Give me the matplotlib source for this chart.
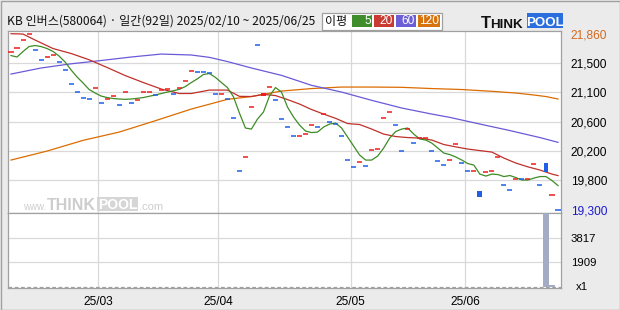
import math
import numpy as np
import pandas as pd
import matplotlib
matplotlib.use('Agg')
import matplotlib.pyplot as plt
from matplotlib.patches import Rectangle

plt.rcParams['font.family'] = ['Noto Sans CJK KR', 'DejaVu Sans']

# ---------------- data ----------------
title = 'KB 인버스(580064) · 일간(92일) 2025/02/10 ~ 2025/06/25'
holidays = ['2025-03-03', '2025-05-01', '2025-05-05', '2025-05-06', '2025-06-03', '2025-06-06']
dates = pd.bdate_range('2025-02-10', '2025-06-25').difference(pd.to_datetime(holidays))

closes = [21590, 21645, 21765, 21860, 21620, 21475, 21515, 21545, 21445, 21325,
          21125, 21005, 20920, 20905, 21065, 20845, 20905, 20950, 20830, 21010,
          20845, 20895, 21010, 21010, 20970, 21035, 21050, 20980, 21065, 21165,
          21315, 21305, 21300, 21290, 20980, 20980, 20915, 20630, 19870, 20060,
          20790, 21690, 21000, 21080, 20895, 20615, 20500, 20365, 20365, 20395,
          20525, 20500, 20695, 20580, 20540, 20365, 20030, 19915, 19990, 19930,
          20165, 20190, 20630, 20715, 20525, 20150, 20470, 20265, 20340, 20345,
          20150, 20015, 19945, 20030, 20250, 19975, 19860, 19860, 19490, 19845,
          19870, 20060, 19655, 19580, 19740, 19740, 19740, 19960, 19655, 19845,
          19510, 19300]
# u = rising (red), d = falling (blue)
direction = ('uuuudduudd' 'dddduduudu' 'duuuduuduu' 'uddddudddu' 'uduudddduu'
             'ududddddud' 'uuuudduduu' 'ddduuddudu' 'uudduduudd' 'ud')
candle_idx = [42, 78, 89]
candle_open = [20950, 19575, 19985]

volume_idx = [89, 90]
volume_val = [5726, 100]

ma5 = [21542, 21521, 21601, 21673, 21688, 21673, 21644, 21601, 21535, 21448,
       21332, 21230, 21142, 21048, 20997, 20953, 20931, 20917, 20910, 20905,
       20910, 20920, 20931, 20950, 20968, 20990, 21011, 21030, 21051, 21091,
       21150, 21203, 21266, 21281, 21225, 21150, 21077, 20944, 20706, 20488,
       20473, 20618, 20720, 20953, 21077, 21011, 20793, 20648, 20531, 20444,
       20422, 20429, 20502, 20546, 20560, 20488, 20357, 20226, 20095, 20022,
       20022, 20080, 20197, 20342, 20437, 20473, 20488, 20400, 20328, 20313,
       20269, 20197, 20124, 20102, 20066, 20022, 19971, 19949, 19818, 19789,
       19818, 19811, 19782, 19797, 19767, 19731, 19731, 19760, 19782, 19782,
       19724, 19651]
ma20_idx = [0, 2, 4, 7, 10, 13, 16, 19, 22, 25, 28, 30, 33, 36, 38, 40, 42, 44, 46, 48,
            50, 52, 54, 56, 58, 60, 62, 64, 66, 68, 70, 72, 74, 76, 78, 80, 82, 84, 86,
            88, 90, 91]
ma20 = [21860, 21855, 21768, 21644, 21572, 21481, 21368, 21251, 21150, 21055, 20990,
        20990, 21040, 21040, 20949, 20946, 20978, 20960, 20902, 20837, 20757, 20691,
        20629, 20553, 20539, 20473, 20400, 20364, 20349, 20342, 20313, 20248, 20214,
        20182, 20160, 20138, 20051, 19978, 19923, 19877, 19818, 19796]
ma60_idx = [0, 5, 10, 15, 20, 25, 30, 33, 36, 40, 45, 50, 55, 60, 65, 70, 73, 78, 83, 88, 91]
ma60 = [21273, 21361, 21422, 21470, 21521, 21564, 21550, 21516, 21455, 21361, 21254,
        21109, 21011, 20891, 20779, 20691, 20643, 20546, 20451, 20349, 20280]
ma120_idx = [0, 6, 12, 18, 24, 30, 36, 40, 45, 50, 55, 60, 65, 70, 75, 80, 84, 87, 89, 91]
ma120 = [20022, 20153, 20309, 20429, 20594, 20764, 20905, 20946, 21026, 21062, 21084,
         21084, 21080, 21062, 21048, 21022, 20997, 20968, 20946, 20910]

ma_labels = ['5', '20', '60', '120']
ma_colors = ['#3f8e2b', '#c93a31', '#6c5fd6', '#d7730f']
line_colors = ['#3d8c25', '#c0302a', '#6a5ad8', '#dc6c00']
up_color, down_color = '#ee1c1c', '#1f5fe8'

price_max, price_min = max(closes + ma20), min(closes)

# ---------------- figure ----------------
W, H = 620, 310
fig = plt.figure(figsize=(W / 100, H / 100), dpi=100)
fig.patch.set_facecolor('#ebebeb')


def fr(x0, y0, x1, y1):
    return [x0 / W, 1 - y1 / H, (x1 - x0) / W, (y1 - y0) / H]


ax = fig.add_axes(fr(8, 31, 561, 212.5))
axv = fig.add_axes(fr(8, 212.5, 561, 287.5), sharex=ax)
n = len(closes)
x = np.arange(n)

grid_c = '#d9d9d9'
spine_c = '#a0a0a0'
step = (price_max - price_min) / 6
wpp = step / 29.33  # won per pixel
ax.set_ylim(price_min - 2.8 * wpp, price_max + 2.7 * wpp)
ax.set_xlim(-0.5, n - 0.5)

month_pos = [i for i in range(1, n) if dates[i].month != dates[i - 1].month]
for i in month_pos:
    ax.axvline(i - 0.5, color=grid_c, lw=0.9, zorder=0)
    axv.axvline(i - 0.5, color=grid_c, lw=0.9, zorder=0)
grid_vals = [price_min + k * step for k in range(1, 6)]
for v in grid_vals:
    ax.axhline(v, color=grid_c, lw=0.9, zorder=0)

# moving averages
ax.plot(ma120_idx, ma120, color=line_colors[3], lw=0.9, zorder=2)
ax.plot(ma60_idx, ma60, color=line_colors[2], lw=0.9, zorder=2)
ax.plot(ma20_idx, ma20, color=line_colors[1], lw=0.9, zorder=2)
ax.plot(x, ma5, color=line_colors[0], lw=0.9, zorder=2)

# daily marks
cols = [up_color if d == 'u' else down_color for d in direction]
dash_x = [i for i in range(n) if i not in candle_idx]
ax.hlines([closes[i] for i in dash_x], [i - 0.42 for i in dash_x], [i + 0.42 for i in dash_x],
          colors=[cols[i] for i in dash_x], lw=1.1, zorder=3)
for i, o in zip(candle_idx, candle_open):
    ax.bar(i, closes[i] - o, bottom=o, width=0.82, color=cols[i], zorder=3)

# price labels
ax.yaxis.tick_right()
ticks = [price_min] + grid_vals + [price_max]
tlabels = ['{:,}'.format(price_min)] + ['{:,}'.format(int(math.ceil(v / 100) * 100)) for v in grid_vals] \
          + ['{:,}'.format(price_max)]
ax.set_yticks(ticks)
ax.set_yticklabels(tlabels, family='Liberation Sans', fontsize=8.6)
ax.tick_params(axis='y', length=0, pad=7)
ax.get_yticklabels()[0].set_color('#1a1acd')
ax.get_yticklabels()[-1].set_color('#d2691e')
ax.tick_params(axis='x', length=0, labelbottom=False)

# volume
vmax = max(volume_val)
vpp = (2 * vmax / 3) / 49.0
axv.set_ylim(-1.0 * vpp, 74 * vpp)
axv.bar(volume_idx, volume_val, width=0.85, color='#a3acc4', zorder=3)
for v in [vmax / 3, 2 * vmax / 3]:
    axv.axhline(v, color=grid_c, lw=0.9, zorder=0)
axv.axhline(0, color=spine_c, lw=0.9, ls=(0, (3, 2)), zorder=1)
axv.yaxis.tick_right()
axv.set_yticks([vmax / 3, 2 * vmax / 3])
axv.set_yticklabels([str(round(vmax / 3)), str(round(2 * vmax / 3))], family='Liberation Sans', fontsize=8.2)
axv.tick_params(axis='y', length=0, pad=7)
axv.set_xticks([i - 0.5 for i in month_pos])
axv.set_xticklabels([dates[i].strftime('%y/%m') for i in month_pos], family='Liberation Sans', fontsize=8.6)
axv.tick_params(axis='x', length=0, pad=6)
axv.text(1.027, 0.0, 'x1', transform=axv.transAxes, family='Liberation Sans', fontsize=8.2,
         va='center', ha='left')

for a in (ax, axv):
    a.set_facecolor('white')
    for s in a.spines.values():
        s.set_color(spine_c)
        s.set_linewidth(0.9)

# ---------------- overlay (header, legend, logos) ----------------
ov = fig.add_axes([0, 0, 1, 1], zorder=5)
ov.set_xlim(0, W)
ov.set_ylim(H, 0)
ov.axis('off')
ov.patch.set_alpha(0)
ov.add_patch(Rectangle((0.5, 0.5), W - 1, H - 1, fill=False, ec='#a0a0a0', lw=1))

ov.text(7, 21, title, fontsize=8.7, va='center', ha='left', color='#111111')

ov.add_patch(Rectangle((321.5, 12.5), 120, 17, fc='white', ec='#a0a0a0', lw=0.9))
ov.text(325, 21, '이평', fontsize=8.7, va='center', ha='left', color='#111111')
box_x = [(351.7, 372.3), (373.7, 394.3), (395.7, 416.3), (417.7, 440)]
for (x0, x1), c, lab in zip(box_x, ma_colors, ma_labels):
    ov.add_patch(Rectangle((x0, 15), x1 - x0, 12.3, fc=c, ec='none'))
    ov.text(x1 - 1.5, 21.4, lab, color='white', fontsize=8.6, family='Liberation Sans',
            va='center', ha='right')

# THINKPOOL logo
ov.text(481, 27.5, 'T', fontsize=12, fontweight='heavy', family='Liberation Sans', color='#111111',
        va='baseline')
ov.text(490.5, 27.5, 'HINK', fontsize=9.6, fontweight='heavy', family='Liberation Sans',
        color='#111111', va='baseline')
ov.add_patch(Rectangle((526.7, 13.3), 36.6, 15, fc='#2b6fde', ec='none'))
ov.text(545, 26.3, 'POOL', fontsize=9.6, fontweight='heavy', family='Liberation Sans',
        color='white', va='baseline', ha='center')

# watermark
wm = '#cdcdcd'
ov.text(22.7, 209.5, 'www.', fontsize=7, family='Liberation Sans', color=wm, va='baseline')
ov.text(46.7, 209.5, 'THINK', fontsize=11.5, fontweight='bold', family='Liberation Sans', color=wm,
        va='baseline')
ov.add_patch(Rectangle((96.7, 197), 41.6, 13.5, fc='#d6d6d6', ec='none'))
ov.text(117.5, 208.8, 'POOL', fontsize=10, fontweight='bold', family='Liberation Sans', color='white',
        va='baseline', ha='center')
ov.text(138.5, 209.5, '.com', fontsize=8, family='Liberation Sans', color=wm, va='baseline')

fig.savefig('out.png', dpi=100, facecolor=fig.get_facecolor())
